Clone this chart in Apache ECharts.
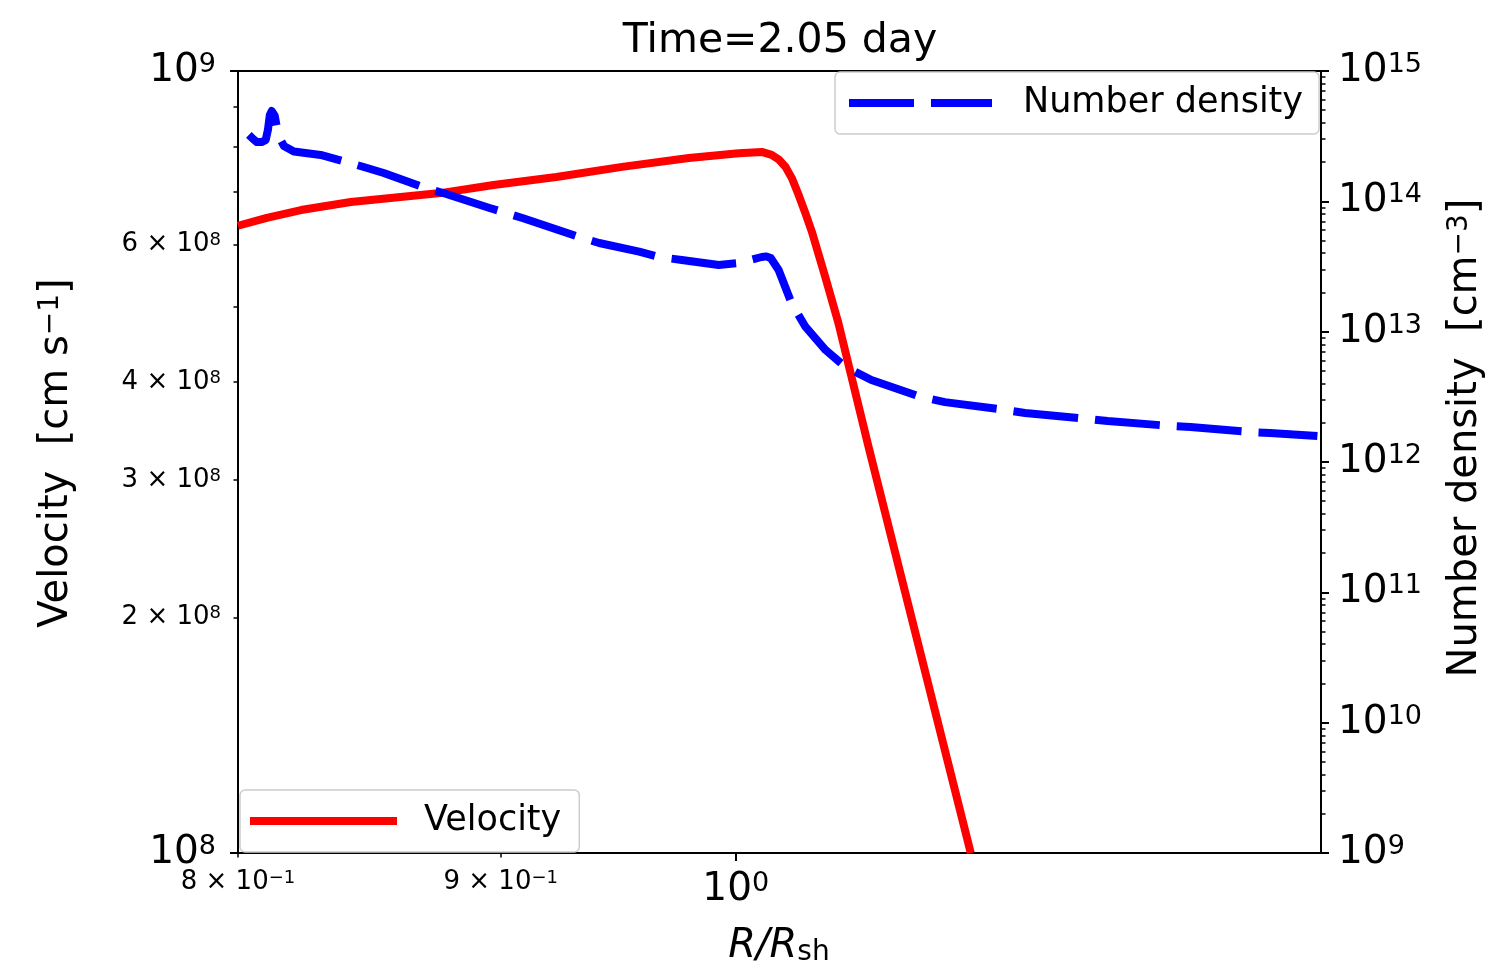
<!DOCTYPE html>
<html>
<head>
<meta charset="utf-8">
<script src="https://cdn.jsdelivr.net/npm/echarts@6/dist/echarts.min.js"></script>
<style>
html,body{margin:0;padding:0;background:#fff;}
#chart{width:1491px;height:966px;}
</style>
</head>
<body>
<div id="chart"></div>
<script>
// ---------------- data ----------------
const velR = [0.8000, 0.8104, 0.8229, 0.8415, 0.8605, 0.8760, 0.8971, 0.9227, 0.9503, 0.9792,
              1.0013, 1.0117, 1.0162, 1.0194, 1.0225, 1.0255, 1.0286, 1.0317, 1.0347, 1.0409,
              1.0471, 1.0613, 1.1111];
const velV = [6.34e8, 6.49e8, 6.64e8, 6.80e8, 6.90e8, 6.98e8, 7.15e8, 7.32e8, 7.54e8, 7.74e8,
              7.85e8, 7.88e8, 7.81e8, 7.71e8, 7.545e8, 7.29e8, 6.94e8, 6.58e8, 6.23e8, 5.46e8,
              4.76e8, 3.31e8, 1.0e8];

const denR = [0.8039, 0.8054, 0.8068, 0.8086, 0.8100, 0.8108, 0.8115, 0.8122, 0.8133, 0.8141,
              0.8151, 0.8166, 0.8203, 0.8302, 0.8400, 0.8464, 0.8540, 0.8700, 0.8771, 0.8955,
              0.9088, 0.9322, 0.9406, 0.9576, 0.9662, 0.9761, 0.9924, 1.0013, 1.0117, 1.0138,
              1.0158, 1.0194, 1.0253, 1.0318, 1.0411, 1.0504, 1.0627, 1.0867, 1.0983, 1.1283,
              1.1385, 1.1709, 1.1814, 1.2152, 1.2261, 1.2593, 1.2706, 1.2979];
const denN = [3.23e14, 3.01e14, 2.85e14, 2.85e14, 2.96e14, 3.53e14, 4.60e14, 4.93e14, 4.52e14, 3.65e14,
              3.06e14, 2.66e14, 2.41e14, 2.27e14, 2.00e14, 1.834e14, 1.65e14, 1.266e14, 1.158e14, 8.89e13,
              7.45e13, 5.33e13, 4.79e13, 4.11e13, 3.74e13, 3.55e13, 3.25e13, 3.36e13, 3.74e13, 3.78e13,
              3.67e13, 2.97e13, 1.66e13, 1.086e13, 7.23e12, 5.36e12, 4.26e12, 3.15e12, 2.88e12, 2.51e12,
              2.38e12, 2.14e12, 2.06e12, 1.89e12, 1.855e12, 1.70e12, 1.67e12, 1.58e12];

// ---------------- ticks ----------------
const xMajorTicks = [1.0];
const xMinorTicks = [0.8, 0.9];
const velMajorTicks = [1e8, 1e9];
const velMinorTicks = [2e8, 3e8, 4e8, 5e8, 6e8, 7e8, 8e8, 9e8];
const velMinorLabels = [2e8, 3e8, 4e8, 6e8];
const denMajorTicks = [1e9, 1e10, 1e11, 1e12, 1e13, 1e14, 1e15];
const denMinorTicks = [];
for (let k = 9; k <= 14; k++) for (let m = 2; m <= 9; m++) denMinorTicks.push(m * Math.pow(10, k));

const titleText = 'Time=2.05 day';
const velName = 'Velocity';
const denName = 'Number density';

// ---------------- helpers ----------------
const FONT = 'DejaVu Sans';
function sciLabel(v) {
  const e = Math.floor(Math.log10(v) + 1e-6);
  const m = Math.round(v / Math.pow(10, e));
  const es = e < 0 ? '\u2212' + (-e) : String(e);
  if (m === 1) return '{B|10}{S|' + es + '}';
  return '{b|' + m + ' \u00d7 10}{s|' + es + '}';
}
const richTicks = {
  B: {fontSize: 39, lineHeight: 39, padding: [4, 0, 0, 0], fontFamily: FONT, color: '#000', verticalAlign: 'bottom'},
  S: {fontSize: 27, lineHeight: 27, fontFamily: FONT, color: '#000', verticalAlign: 'top'},
  b: {fontSize: 26, lineHeight: 26, padding: [2, 0, 0, 0], fontFamily: FONT, color: '#000', verticalAlign: 'bottom'},
  s: {fontSize: 18, lineHeight: 18, fontFamily: FONT, color: '#000', verticalAlign: 'top'}
};
const richNames = {
  b: {fontSize: 40, lineHeight: 40, padding: [5, 0, 0, 0], fontFamily: FONT, fill: '#000', verticalAlign: 'bottom'},
  s: {fontSize: 28, lineHeight: 28, fontFamily: FONT, fill: '#000', verticalAlign: 'top'},
  i: {fontSize: 40, lineHeight: 40, fontFamily: FONT, fontStyle: 'italic', fill: '#000', verticalAlign: 'top'},
  u: {fontSize: 28, lineHeight: 28, fontFamily: FONT, fill: '#000', verticalAlign: 'bottom'}
};

function logAxis(opts) {
  return Object.assign({
    type: 'log', logBase: 10,
    splitLine: {show: false},
    minorTick: {show: false},
    minorSplitLine: {show: false},
    axisLine: {show: false},
  }, opts);
}

const X_MIN = 0.8, X_MAX = 1.3;
const V_MIN = 1e8, V_MAX = 1.000001e9;
const N_MIN = 1e9, N_MAX = 1.000001e15;
const tickLine = (w) => ({color: '#000', width: w});

const option = {
  animation: false,
  backgroundColor: '#fff',
  grid: {left: 238, right: 170, top: 71, bottom: 113, show: true, borderColor: '#000', borderWidth: 2,
         backgroundColor: 'transparent', containLabel: false, outerBoundsMode: 'none'},
  xAxis: [
    logAxis({min: X_MIN, max: X_MAX, position: 'bottom',
      axisLine: {show: true, lineStyle: {color: '#000', width: 2}},
      axisTick: {show: true, inside: false, length: 8, lineStyle: tickLine(2), customValues: xMajorTicks},
      axisLabel: {show: true, margin: 17, customValues: xMajorTicks, formatter: sciLabel, rich: richTicks}}),
    logAxis({min: X_MIN, max: X_MAX, position: 'bottom',
      axisTick: {show: true, inside: false, length: 4.5, lineStyle: tickLine(1.5), customValues: xMinorTicks},
      axisLabel: {show: true, margin: 16, customValues: xMinorTicks, formatter: sciLabel, rich: richTicks}})
  ],
  yAxis: [
    logAxis({min: V_MIN, max: V_MAX, position: 'left',
      axisLine: {show: true, lineStyle: {color: '#000', width: 2}},
      axisTick: {show: true, inside: false, length: 8, lineStyle: tickLine(2), customValues: velMajorTicks},
      axisLabel: {show: true, margin: 22, customValues: velMajorTicks, formatter: sciLabel, rich: richTicks}}),
    logAxis({min: N_MIN, max: N_MAX, position: 'right',
      axisLine: {show: true, lineStyle: {color: '#000', width: 2}},
      axisTick: {show: true, inside: false, length: 8, lineStyle: tickLine(2), customValues: denMajorTicks},
      axisLabel: {show: true, margin: 17, customValues: denMajorTicks, formatter: sciLabel, rich: richTicks}}),
    logAxis({min: V_MIN, max: V_MAX, position: 'left',
      axisTick: {show: true, inside: false, length: 4.5, lineStyle: tickLine(1.5), customValues: velMinorTicks},
      axisLabel: {show: true, margin: 17, customValues: velMinorLabels, formatter: sciLabel, rich: richTicks}}),
    logAxis({min: N_MIN, max: N_MAX, position: 'right',
      axisTick: {show: true, inside: false, length: 4.5, lineStyle: tickLine(1.5), customValues: denMinorTicks},
      axisLabel: {show: false}})
  ],
  legend: [
    {data: [denName], left: 835, top: 72, orient: 'horizontal', selectedMode: false,
     padding: [13, 16, 13, 10], itemWidth: 143, itemHeight: 36,
     backgroundColor: 'rgba(255,255,255,0.8)', borderColor: '#cccccc', borderWidth: 1.5, borderRadius: 5,
     lineStyle: {width: 8, type: [65, 17], cap: 'butt'}, itemStyle: {opacity: 0},
     textStyle: {fontSize: 35, lineHeight: 36, fontFamily: FONT, color: '#000', padding: [0, 0, 0, 26]}},
    {data: [velName], left: 240, top: 790, orient: 'horizontal', selectedMode: false,
     padding: [13, 18, 13, 6], itemWidth: 147, itemHeight: 36,
     backgroundColor: 'rgba(255,255,255,0.8)', borderColor: '#cccccc', borderWidth: 1.5, borderRadius: 5,
     lineStyle: {width: 8, cap: 'butt'}, itemStyle: {opacity: 0},
     textStyle: {fontSize: 35, lineHeight: 36, fontFamily: FONT, color: '#000', padding: [0, 0, 0, 22]}}
  ],
  series: [
    {name: velName, type: 'line', xAxisIndex: 0, yAxisIndex: 0, symbol: 'none', smooth: false,
     data: velR.map((r, i) => [r, velV[i]]),
     lineStyle: {color: '#ff0000', width: 8, cap: 'butt', join: 'round'}, itemStyle: {color: '#ff0000'}, z: 2},
    {name: denName, type: 'line', xAxisIndex: 0, yAxisIndex: 1, symbol: 'none', smooth: false,
     data: denR.map((r, i) => [r, denN[i]]),
     lineStyle: {color: '#0000ff', width: 8, type: [65, 17], cap: 'butt', join: 'round'}, itemStyle: {color: '#0000ff'}, z: 3}
  ],
  graphic: [
    {type: 'text', x: 780, y: 41, silent: true,
     style: {text: titleText, font: '41px "DejaVu Sans"', fill: '#000', align: 'center', verticalAlign: 'middle'}},
    {type: 'text', x: 57, y: 453, rotation: Math.PI / 2, silent: true,
     style: {text: '{b|Velocity  [cm s}{s|\u22121}{b|]}', rich: richNames, align: 'center', verticalAlign: 'middle'}},
    {type: 'text', x: 1466, y: 438, rotation: Math.PI / 2, silent: true,
     style: {text: '{b|Number density  [cm}{s|\u22123}{b|]}', rich: richNames, align: 'center', verticalAlign: 'middle'}},
    {type: 'text', x: 779, y: 947, silent: true,
     style: {text: '{i|R/R}{u|sh}', rich: richNames, align: 'center', verticalAlign: 'middle'}}
  ]
};

const chart = echarts.init(document.getElementById('chart'), null, {renderer: 'canvas'});
chart.setOption(option);
</script>
</body>
</html>
